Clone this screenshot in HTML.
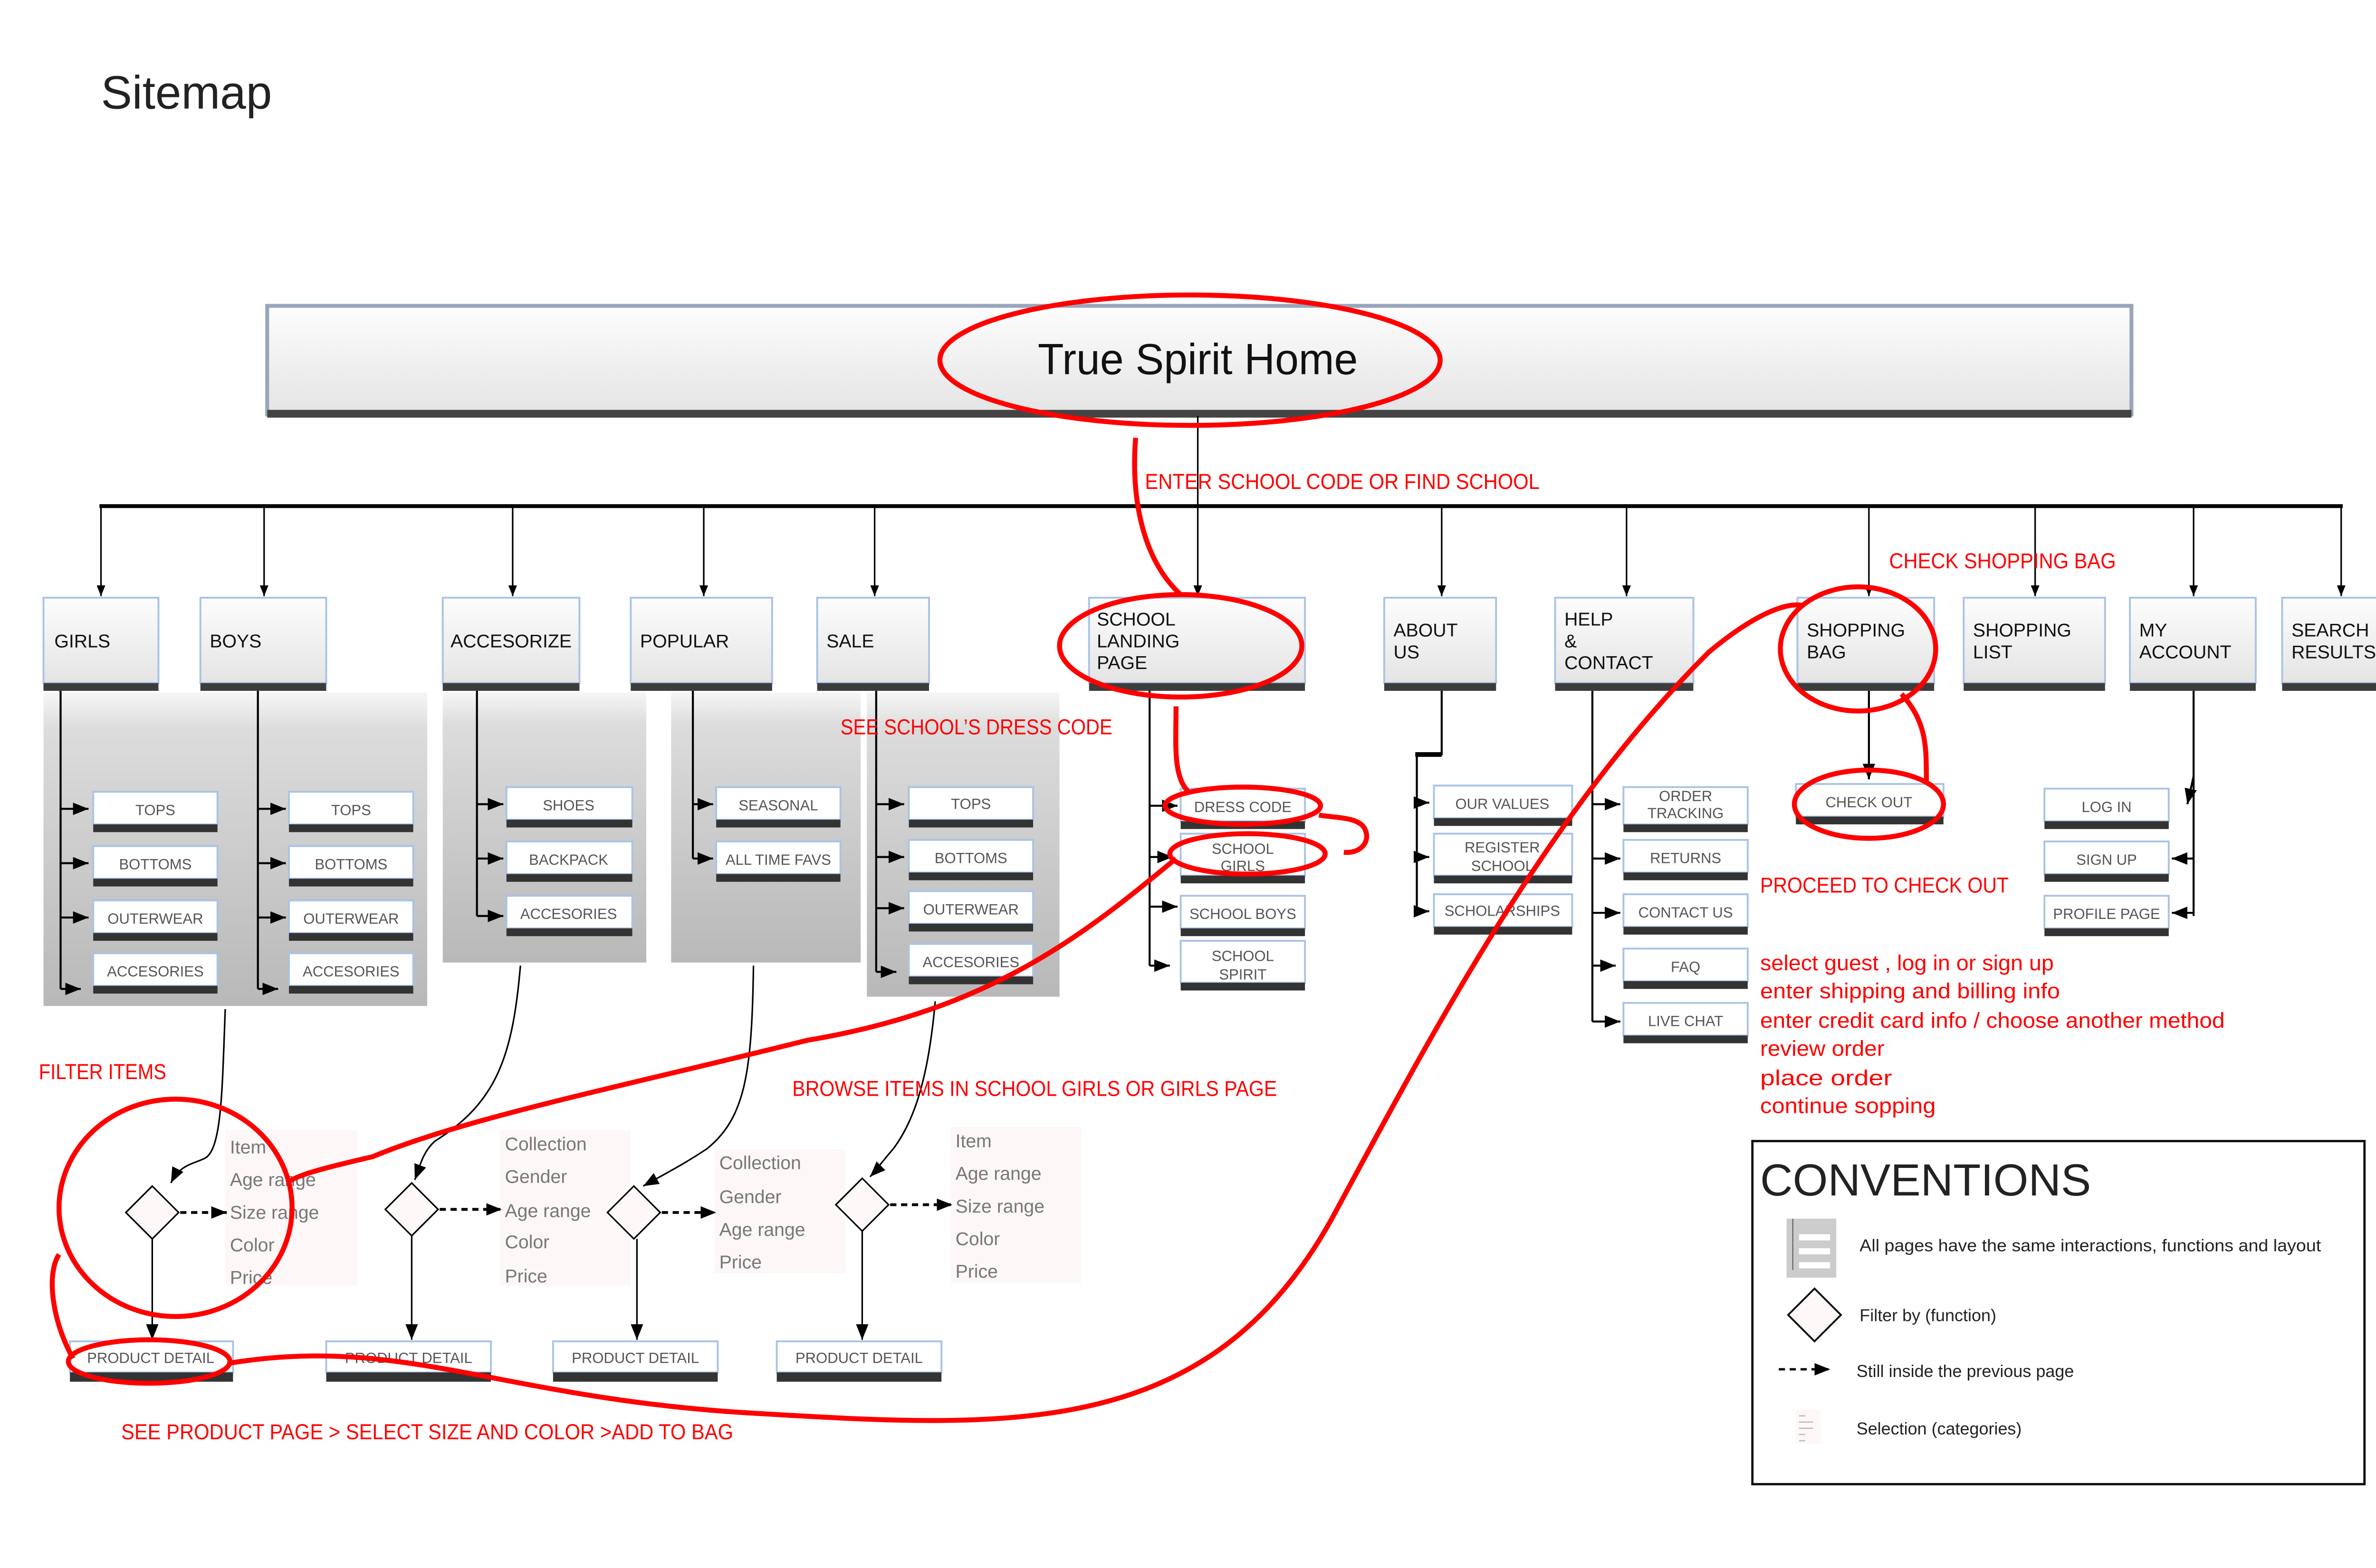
<!DOCTYPE html>
<html><head><meta charset="utf-8"><style>
html,body{margin:0;padding:0;background:#fff;width:5100px;height:3300px;overflow:hidden}
svg{display:block}
.n{font-family:"Liberation Sans Narrow","Liberation Sans",sans-serif;font-size:12px;fill:#111}
.s{font-family:"Liberation Sans Narrow","Liberation Sans",sans-serif;font-size:9.5px;fill:#555;text-anchor:middle}
.r{font-family:"Liberation Sans Narrow","Liberation Sans",sans-serif;font-size:14px;fill:#f00}
.l{font-family:"Liberation Sans Narrow","Liberation Sans",sans-serif;font-size:12px;fill:#777}
.c{font-family:"Liberation Sans Narrow","Liberation Sans",sans-serif;font-size:11px;fill:#222}
</style></head><body>
<svg width="5100" height="3300" viewBox="0 0 1560 1010" preserveAspectRatio="none" xmlns="http://www.w3.org/2000/svg">
<defs>
<linearGradient id="bg" x1="0" y1="0" x2="0" y2="1"><stop offset="0" stop-color="#fdfdfd"/><stop offset="1" stop-color="#e4e4e4"/></linearGradient>
<linearGradient id="pg" x1="0" y1="0" x2="0" y2="1"><stop offset="0" stop-color="#f6f6f6"/><stop offset="0.12" stop-color="#dcdcdc"/><stop offset="1" stop-color="#b8b8b8"/></linearGradient>
<marker id="a" viewBox="0 0 10 10" refX="10" refY="5" markerWidth="7" markerHeight="7" orient="auto" markerUnits="userSpaceOnUse"><path d="M0,1 L10,5 L0,9z" fill="#000"/></marker>
<marker id="b" viewBox="0 0 10 10" refX="10" refY="5" markerWidth="10" markerHeight="10" orient="auto" markerUnits="userSpaceOnUse"><path d="M0,1 L10,5 L0,9z" fill="#000"/></marker>
</defs>

<text x="65" y="70" style="font-family:'Liberation Sans',sans-serif;font-size:30px;fill:#222">Sitemap</text>

<rect x="172" y="197" width="1200" height="70" fill="url(#bg)" stroke="#98a6bc" stroke-width="2.5"/>
<rect x="172" y="264" width="1200" height="5" fill="#444"/>
<text x="771" y="241" text-anchor="middle" style="font-family:'Liberation Sans Narrow','Liberation Sans',sans-serif;font-size:28px;fill:#111" textLength="206" lengthAdjust="spacingAndGlyphs">True Spirit Home</text>

<g stroke="#000" stroke-width="1" fill="none">
<line x1="771" y1="268" x2="771" y2="326"/>
<line x1="64" y1="326" x2="1508" y2="326" stroke-width="2.5"/>
<g marker-end="url(#a)">
<line x1="65" y1="326" x2="65" y2="384"/><line x1="170" y1="326" x2="170" y2="384"/>
<line x1="330" y1="326" x2="330" y2="384"/><line x1="453" y1="326" x2="453" y2="384"/>
<line x1="563" y1="326" x2="563" y2="384"/><line x1="771" y1="326" x2="771" y2="384"/>
<line x1="928" y1="326" x2="928" y2="384"/><line x1="1047" y1="326" x2="1047" y2="384"/>
<line x1="1203" y1="326" x2="1203" y2="384"/><line x1="1310" y1="326" x2="1310" y2="384"/>
<line x1="1412" y1="326" x2="1412" y2="384"/><line x1="1507" y1="326" x2="1507" y2="384"/>
</g></g>

<rect x="28" y="446" width="247" height="202" fill="url(#pg)"/>
<rect x="285" y="446" width="131" height="174" fill="url(#pg)"/>
<rect x="432" y="446" width="122" height="174" fill="url(#pg)"/>
<rect x="558" y="446" width="124" height="196" fill="url(#pg)"/>

<g>
<g fill="url(#bg)" stroke="#a9c3e6" stroke-width="1.2">
<rect x="28" y="385" width="74" height="55"/><rect x="129" y="385" width="81" height="55"/>
<rect x="285" y="385" width="88" height="55"/><rect x="406" y="385" width="91" height="55"/>
<rect x="526" y="385" width="72" height="55"/><rect x="701" y="385" width="139" height="55"/>
<rect x="891" y="385" width="72" height="55"/><rect x="1001" y="385" width="89" height="55"/>
<rect x="1157" y="385" width="88" height="55"/><rect x="1264" y="385" width="91" height="55"/>
<rect x="1371" y="385" width="81" height="55"/><rect x="1469" y="385" width="74" height="55"/>
</g>
<g fill="#3c3c3c">
<rect x="28" y="440" width="74" height="5"/><rect x="129" y="440" width="81" height="5"/>
<rect x="285" y="440" width="88" height="5"/><rect x="406" y="440" width="91" height="5"/>
<rect x="526" y="440" width="72" height="5"/><rect x="701" y="440" width="139" height="5"/>
<rect x="891" y="440" width="72" height="5"/><rect x="1001" y="440" width="89" height="5"/>
<rect x="1157" y="440" width="88" height="5"/><rect x="1264" y="440" width="91" height="5"/>
<rect x="1371" y="440" width="81" height="5"/><rect x="1469" y="440" width="74" height="5"/>
</g>
<text class="n" x="35" y="417">GIRLS</text>
<text class="n" x="135" y="417">BOYS</text>
<text class="n" x="290" y="417">ACCESORIZE</text>
<text class="n" x="412" y="417">POPULAR</text>
<text class="n" x="532" y="417">SALE</text>
<text class="n" x="706" y="403">SCHOOL</text><text class="n" x="706" y="417">LANDING</text><text class="n" x="706" y="431">PAGE</text>
<text class="n" x="897" y="410">ABOUT</text><text class="n" x="897" y="424">US</text>
<text class="n" x="1007" y="403">HELP</text><text class="n" x="1007" y="417">&amp;</text><text class="n" x="1007" y="431">CONTACT</text>
<text class="n" x="1163" y="410">SHOPPING</text><text class="n" x="1163" y="424">BAG</text>
<text class="n" x="1270" y="410">SHOPPING</text><text class="n" x="1270" y="424">LIST</text>
<text class="n" x="1377" y="410">MY</text><text class="n" x="1377" y="424">ACCOUNT</text>
<text class="n" x="1475" y="410">SEARCH</text><text class="n" x="1475" y="424">RESULTS</text>
</g>

<g stroke="#000" stroke-width="1.3" fill="none">
<line x1="39" y1="445" x2="39" y2="637"/>
<line x1="166" y1="445" x2="166" y2="637"/>
<line x1="307" y1="445" x2="307" y2="590"/>
<line x1="446" y1="445" x2="446" y2="553"/>
<line x1="564" y1="445" x2="564" y2="626"/>
<line x1="740" y1="445" x2="740" y2="622"/>
<polyline points="928,445 928,486 912,486 912,588" stroke-width="1.3"/>
<line x1="911" y1="486" x2="928" y2="486" stroke-width="3"/>
<line x1="1025" y1="445" x2="1025" y2="658"/>
<line x1="1203" y1="445" x2="1203" y2="502" marker-end="url(#b)"/>
<line x1="1412" y1="445" x2="1412" y2="590"/>
<g marker-end="url(#b)">
<line x1="39" y1="521" x2="57" y2="521"/><line x1="39" y1="556" x2="57" y2="556"/><line x1="39" y1="591" x2="57" y2="591"/><line x1="39" y1="637" x2="52" y2="637"/>
<line x1="166" y1="521" x2="184" y2="521"/><line x1="166" y1="556" x2="184" y2="556"/><line x1="166" y1="591" x2="184" y2="591"/><line x1="166" y1="637" x2="179" y2="637"/>
<line x1="307" y1="518" x2="324" y2="518"/><line x1="307" y1="553" x2="324" y2="553"/><line x1="307" y1="590" x2="324" y2="590"/>
<line x1="446" y1="518" x2="459" y2="518"/><line x1="446" y1="553" x2="459" y2="553"/>
<line x1="564" y1="518" x2="582" y2="518"/><line x1="564" y1="552" x2="582" y2="552"/><line x1="564" y1="585" x2="582" y2="585"/><line x1="564" y1="626" x2="577" y2="626"/>
<line x1="740" y1="519" x2="758" y2="519"/><line x1="740" y1="552" x2="755" y2="552"/><line x1="740" y1="584" x2="758" y2="584"/><line x1="740" y1="622" x2="753" y2="622"/>
<line x1="912" y1="517" x2="920" y2="517"/><line x1="912" y1="552" x2="920" y2="552"/><line x1="912" y1="587" x2="920" y2="587"/>
<line x1="1025" y1="518" x2="1043" y2="518"/><line x1="1025" y1="553" x2="1043" y2="553"/><line x1="1025" y1="588" x2="1043" y2="588"/><line x1="1025" y1="622" x2="1040" y2="622"/><line x1="1025" y1="658" x2="1043" y2="658"/>
<line x1="1412" y1="500" x2="1408" y2="518"/><line x1="1412" y1="553" x2="1398" y2="553"/><line x1="1412" y1="588" x2="1398" y2="588"/>
</g></g>

<g>
<g fill="#fff" stroke="#a9c3e6" stroke-width="1.2">
<rect x="60" y="510" width="80" height="21"/><rect x="60" y="545" width="80" height="21"/><rect x="60" y="580" width="80" height="21"/><rect x="60" y="614" width="80" height="21"/>
<rect x="186" y="510" width="80" height="21"/><rect x="186" y="545" width="80" height="21"/><rect x="186" y="580" width="80" height="21"/><rect x="186" y="614" width="80" height="21"/>
<rect x="326" y="507" width="81" height="21"/><rect x="326" y="542" width="81" height="21"/><rect x="326" y="577" width="81" height="21"/>
<rect x="461" y="507" width="80" height="21"/><rect x="461" y="542" width="80" height="21"/>
<rect x="585" y="507" width="80" height="21"/><rect x="585" y="541" width="80" height="21"/><rect x="585" y="574" width="80" height="21"/><rect x="585" y="608" width="80" height="21"/>
<rect x="760" y="508" width="80" height="21"/><rect x="760" y="537" width="80" height="27"/><rect x="760" y="577" width="80" height="21"/><rect x="760" y="606" width="80" height="27"/>
<rect x="923" y="506" width="89" height="21"/><rect x="923" y="537" width="89" height="27"/><rect x="923" y="576" width="89" height="21"/>
<rect x="1045" y="507" width="80" height="24"/><rect x="1045" y="541" width="80" height="21"/><rect x="1045" y="576" width="80" height="21"/><rect x="1045" y="611" width="80" height="21"/><rect x="1045" y="646" width="80" height="21"/>
<rect x="1156" y="505" width="95" height="21"/>
<rect x="1316" y="508" width="80" height="21"/><rect x="1316" y="542" width="80" height="21"/><rect x="1316" y="577" width="80" height="21"/>
<rect x="45" y="864" width="105" height="20"/><rect x="210" y="864" width="106" height="20"/><rect x="356" y="864" width="106" height="20"/><rect x="500" y="864" width="106" height="20"/>
</g>
<g fill="#333">
<rect x="60" y="531" width="80" height="5"/><rect x="60" y="566" width="80" height="5"/><rect x="60" y="601" width="80" height="5"/><rect x="60" y="635" width="80" height="5"/>
<rect x="186" y="531" width="80" height="5"/><rect x="186" y="566" width="80" height="5"/><rect x="186" y="601" width="80" height="5"/><rect x="186" y="635" width="80" height="5"/>
<rect x="326" y="528" width="81" height="5"/><rect x="326" y="563" width="81" height="5"/><rect x="326" y="598" width="81" height="5"/>
<rect x="461" y="528" width="80" height="5"/><rect x="461" y="563" width="80" height="5"/>
<rect x="585" y="528" width="80" height="5"/><rect x="585" y="562" width="80" height="5"/><rect x="585" y="595" width="80" height="5"/><rect x="585" y="629" width="80" height="5"/>
<rect x="760" y="529" width="80" height="5"/><rect x="760" y="564" width="80" height="5"/><rect x="760" y="598" width="80" height="5"/><rect x="760" y="633" width="80" height="5"/>
<rect x="923" y="527" width="89" height="5"/><rect x="923" y="564" width="89" height="5"/><rect x="923" y="597" width="89" height="5"/>
<rect x="1045" y="531" width="80" height="5"/><rect x="1045" y="562" width="80" height="5"/><rect x="1045" y="597" width="80" height="5"/><rect x="1045" y="632" width="80" height="5"/><rect x="1045" y="667" width="80" height="5"/>
<rect x="1156" y="526" width="95" height="5"/>
<rect x="1316" y="529" width="80" height="5"/><rect x="1316" y="563" width="80" height="5"/><rect x="1316" y="598" width="80" height="5"/>
<rect x="45" y="884" width="105" height="6"/><rect x="210" y="884" width="106" height="6"/><rect x="356" y="884" width="106" height="6"/><rect x="500" y="884" width="106" height="6"/>
</g>
<text class="s" x="100" y="525">TOPS</text><text class="s" x="100" y="560">BOTTOMS</text><text class="s" x="100" y="595">OUTERWEAR</text><text class="s" x="100" y="629">ACCESORIES</text>
<text class="s" x="226" y="525">TOPS</text><text class="s" x="226" y="560">BOTTOMS</text><text class="s" x="226" y="595">OUTERWEAR</text><text class="s" x="226" y="629">ACCESORIES</text>
<text class="s" x="366" y="522">SHOES</text><text class="s" x="366" y="557">BACKPACK</text><text class="s" x="366" y="592">ACCESORIES</text>
<text class="s" x="501" y="522">SEASONAL</text><text class="s" x="501" y="557">ALL TIME FAVS</text>
<text class="s" x="625" y="521">TOPS</text><text class="s" x="625" y="556">BOTTOMS</text><text class="s" x="625" y="589">OUTERWEAR</text><text class="s" x="625" y="623">ACCESORIES</text>
<text class="s" x="800" y="523">DRESS CODE</text><text class="s" x="800" y="550">SCHOOL</text><text class="s" x="800" y="561">GIRLS</text><text class="s" x="800" y="592">SCHOOL BOYS</text><text class="s" x="800" y="619">SCHOOL</text><text class="s" x="800" y="631">SPIRIT</text>
<text class="s" x="967" y="521">OUR VALUES</text><text class="s" x="967" y="549">REGISTER</text><text class="s" x="967" y="561">SCHOOL</text><text class="s" x="967" y="590">SCHOLARSHIPS</text>
<text class="s" x="1085" y="516">ORDER</text><text class="s" x="1085" y="527">TRACKING</text><text class="s" x="1085" y="556">RETURNS</text><text class="s" x="1085" y="591">CONTACT US</text><text class="s" x="1085" y="626">FAQ</text><text class="s" x="1085" y="661">LIVE CHAT</text>
<text class="s" x="1203" y="520">CHECK OUT</text>
<text class="s" x="1356" y="523">LOG IN</text><text class="s" x="1356" y="557">SIGN UP</text><text class="s" x="1356" y="592">PROFILE PAGE</text>
<text class="s" x="97" y="878">PRODUCT DETAIL</text><text class="s" x="263" y="878">PRODUCT DETAIL</text><text class="s" x="409" y="878">PRODUCT DETAIL</text><text class="s" x="553" y="878">PRODUCT DETAIL</text>
</g>

<g fill="#fdf7f7">
<rect x="145" y="728" width="85" height="100"/><rect x="322" y="728" width="84" height="100"/>
<rect x="460" y="740" width="84" height="80"/><rect x="612" y="726" width="84" height="100"/>
</g>
<text class="l" x="148" y="743">Item</text><text class="l" x="148" y="764">Age range</text><text class="l" x="148" y="785">Size range</text><text class="l" x="148" y="806">Color</text><text class="l" x="148" y="827">Price</text>
<text class="l" x="325" y="741">Collection</text><text class="l" x="325" y="762">Gender</text><text class="l" x="325" y="784">Age range</text><text class="l" x="325" y="804">Color</text><text class="l" x="325" y="826">Price</text>
<text class="l" x="463" y="753">Collection</text><text class="l" x="463" y="775">Gender</text><text class="l" x="463" y="796">Age range</text><text class="l" x="463" y="817">Price</text>
<text class="l" x="615" y="739">Item</text><text class="l" x="615" y="760">Age range</text><text class="l" x="615" y="781">Size range</text><text class="l" x="615" y="802">Color</text><text class="l" x="615" y="823">Price</text>

<g stroke="#000" stroke-width="1" fill="none">
<path d="M98,764 L115,781 L98,798 L81,781Z" fill="#fff8f8"/>
<path d="M265,762 L282,779 L265,796 L248,779Z" fill="#fff8f8"/>
<path d="M408,764 L425,781 L408,798 L391,781Z" fill="#fff8f8"/>
<path d="M555,759 L572,776 L555,793 L538,776Z" fill="#fff8f8"/>
<g marker-end="url(#b)">
<path d="M145,650 C143,700 143,740 132,746 C124,750 116,750 110,762"/>
<path d="M335,622 C330,680 320,710 280,735 C272,742 270,752 267,760"/>
<path d="M485,622 C484,690 480,720 455,740 C440,750 430,755 414,764"/>
<path d="M602,645 C598,690 590,720 575,740 C568,748 563,755 560,758"/>
<line x1="98" y1="798" x2="98" y2="863"/><line x1="265" y1="796" x2="265" y2="863"/>
<line x1="410" y1="798" x2="410" y2="863"/><line x1="555" y1="793" x2="555" y2="863"/>
</g>
<g stroke-dasharray="4,3" stroke-width="1.8" marker-end="url(#b)">
<line x1="116" y1="781" x2="146" y2="781"/><line x1="283" y1="779" x2="323" y2="779"/>
<line x1="426" y1="781" x2="461" y2="781"/><line x1="573" y1="776" x2="613" y2="776"/>
</g></g>

<g stroke="#f00" stroke-width="3.2" fill="none">
<ellipse cx="766" cy="232" rx="161" ry="42"/>
<path d="M731,282 C728,320 735,360 760,383"/>
<ellipse cx="760" cy="416" rx="78" ry="33"/>
<path d="M757,455 C757,480 755,500 765,510"/>
<ellipse cx="800" cy="519" rx="50" ry="12"/>
<path d="M849,525 C860,527 876,526 879,535 C882,543 875,550 865,549"/>
<ellipse cx="803" cy="550" rx="50" ry="13"/>
<path d="M757,553 C700,600 640,650 520,670 C400,700 300,720 240,745 C210,752 190,757 185,762"/>
<ellipse cx="113" cy="778" rx="75" ry="70"/>
<path d="M38,808 C30,820 33,850 47,875"/>
<ellipse cx="96" cy="877" rx="52" ry="14"/>
<path d="M148,878 C260,860 320,900 480,910 C650,920 780,930 860,780 C930,650 1000,520 1100,420 C1130,395 1150,388 1160,390"/>
<ellipse cx="1196" cy="418" rx="50" ry="40"/>
<path d="M1224,447 C1240,465 1240,480 1240,503"/>
<ellipse cx="1203" cy="518" rx="48" ry="22"/>
</g>
<g>
<text class="r" x="737" y="315" textLength="254" lengthAdjust="spacingAndGlyphs">ENTER SCHOOL CODE OR FIND SCHOOL</text>
<text class="r" x="1216" y="366" textLength="146" lengthAdjust="spacingAndGlyphs">CHECK SHOPPING BAG</text>
<text class="r" x="541" y="473" textLength="175" lengthAdjust="spacingAndGlyphs">SEE SCHOOL’S DRESS CODE</text>
<text class="r" x="1133" y="575" textLength="160" lengthAdjust="spacingAndGlyphs">PROCEED TO CHECK OUT</text>
<text class="r" x="1133" y="625" textLength="189" lengthAdjust="spacingAndGlyphs">select guest , log in or sign up</text>
<text class="r" x="1133" y="643" textLength="193" lengthAdjust="spacingAndGlyphs">enter shipping and billing info</text>
<text class="r" x="1133" y="662" textLength="299" lengthAdjust="spacingAndGlyphs">enter credit card info / choose another method</text>
<text class="r" x="1133" y="680" textLength="80" lengthAdjust="spacingAndGlyphs">review order</text>
<text class="r" x="1133" y="699" textLength="85" lengthAdjust="spacingAndGlyphs">place order</text>
<text class="r" x="1133" y="717" textLength="113" lengthAdjust="spacingAndGlyphs">continue sopping</text>
<text class="r" x="25" y="695" textLength="82" lengthAdjust="spacingAndGlyphs">FILTER ITEMS</text>
<text class="r" x="510" y="706" textLength="312" lengthAdjust="spacingAndGlyphs">BROWSE ITEMS IN SCHOOL GIRLS OR GIRLS PAGE</text>
<text class="r" x="78" y="927" textLength="394" lengthAdjust="spacingAndGlyphs">SEE PRODUCT PAGE &gt; SELECT SIZE AND COLOR &gt;ADD TO BAG</text>
</g>

<rect x="1128" y="735" width="394" height="221" fill="#fff" stroke="#111" stroke-width="1.5"/>
<text x="1133" y="770" style="font-family:'Liberation Sans',sans-serif;font-size:29px;fill:#222" textLength="213" lengthAdjust="spacingAndGlyphs">CONVENTIONS</text>
<rect x="1150" y="785" width="32" height="38" fill="#ccc"/>
<line x1="1154" y1="785" x2="1154" y2="818" stroke="#555" stroke-width="0.6"/>
<rect x="1158" y="795" width="20" height="4" fill="#fff"/><rect x="1158" y="804" width="20" height="4" fill="#fff"/><rect x="1158" y="813" width="20" height="4" fill="#fff"/>
<text class="c" x="1197" y="806" textLength="297" lengthAdjust="spacingAndGlyphs">All pages have the same interactions, functions and layout</text>
<path d="M1168,830 L1185,847 L1168,864 L1151,847Z" fill="#fff8f8" stroke="#111" stroke-width="1.2"/>
<text class="c" x="1197" y="851">Filter by (function)</text>
<line x1="1145" y1="882" x2="1178" y2="882" stroke="#000" stroke-width="1.5" stroke-dasharray="4,3" marker-end="url(#b)"/>
<text class="c" x="1195" y="887">Still inside the previous page</text>
<rect x="1156" y="908" width="16" height="22" fill="#fdf7f7"/>
<g stroke="#bbb" stroke-width="0.8"><line x1="1158" y1="912" x2="1162" y2="912"/><line x1="1158" y1="916" x2="1167" y2="916"/><line x1="1158" y1="920" x2="1167" y2="920"/><line x1="1158" y1="924" x2="1162" y2="924"/><line x1="1158" y1="928" x2="1162" y2="928"/></g>
<text class="c" x="1195" y="924">Selection (categories)</text>
</svg>
</body></html>
